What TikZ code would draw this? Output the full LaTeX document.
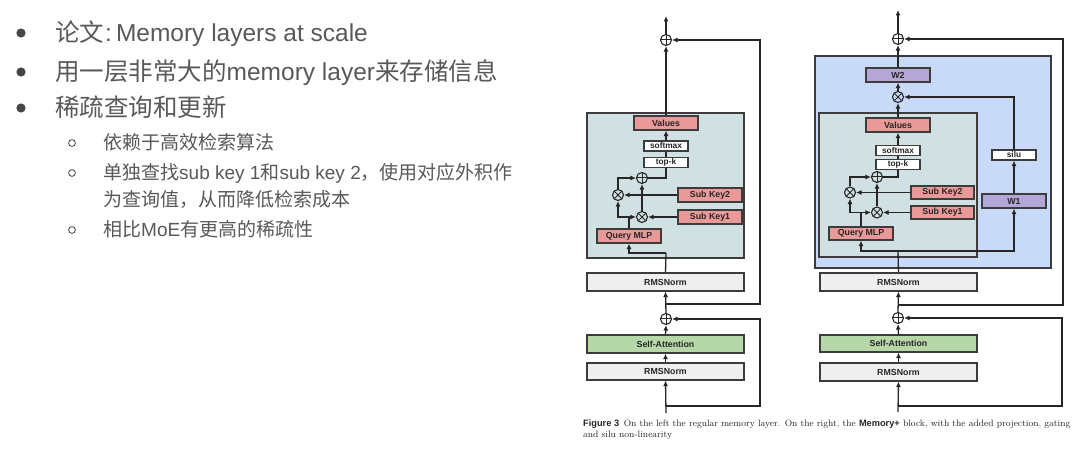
\documentclass[tikz,border=0pt]{standalone}
\usepackage{fontspec}
\newfontfamily\arial{Liberation Sans}
\newfontfamily\cjk{Noto Sans CJK SC}
\usetikzlibrary{arrows.meta}
\definecolor{txt}{HTML}{595959}
\definecolor{bul}{HTML}{464646}
\definecolor{tealbg}{HTML}{D0E0E3}
\definecolor{bluebg}{HTML}{C9DAF8}
\definecolor{pinkc}{HTML}{EA9999}
\definecolor{purp}{HTML}{B4A7D6}
\definecolor{grn}{HTML}{B6D7A8}
\definecolor{gry}{HTML}{EFEFEF}
\definecolor{edge}{HTML}{3C3C3C}
\definecolor{wire}{HTML}{262626}
\tikzset{
  box/.style={draw=edge, line width=1.2pt, inner sep=0pt, font=\arial\bfseries\fontsize{8.8}{9}\selectfont, text=black!85},
  pinkbox/.style={box, fill=pinkc},
  purpbox/.style={box, fill=purp},
  grnbox/.style={box, fill=grn},
  grybox/.style={box, fill=gry},
  whitebox/.style={box, fill=white, font=\arial\bfseries\fontsize{8.3}{9}\selectfont},
  region/.style={draw=edge, line width=1.2pt, inner sep=0pt},
  op/.style={circle, draw=wire, line width=1.1pt, minimum size=11pt, inner sep=0pt},
  oplus/.style={op, path picture={\draw[wire, line width=1pt] (path picture bounding box.north) -- (path picture bounding box.south) (path picture bounding box.west) -- (path picture bounding box.east);}},
  otimes/.style={op, path picture={\draw[wire, line width=1pt] ([shift={(-4pt,-4pt)}]path picture bounding box.center) -- ([shift={(4pt,4pt)}]path picture bounding box.center) ([shift={(-4pt,4pt)}]path picture bounding box.center) -- ([shift={(4pt,-4pt)}]path picture bounding box.center);}},
  arr/.style={draw=wire, line width=1.3pt, -{Latex[length=5.5pt,width=5pt]}},
  ln/.style={draw=wire, line width=1.3pt},
  bigtxt/.style={anchor=base west, inner sep=0pt, text=txt, font=\arial\fontsize{24.5}{28}\selectfont},
  subtxt/.style={anchor=base west, inner sep=0pt, text=txt, font=\arial\fontsize{19}{23}\selectfont},
  captxt/.style={anchor=base west, inner sep=0pt, text=black!85, font=\fontsize{9.25}{11}\selectfont},
}
\newcommand{\capsans}{\arial\bfseries}
\begin{document}
\begin{tikzpicture}[x=1pt, y=-1pt]
\fill[white] (0,0) rectangle (1080,457);
\useasboundingbox (0,0) rectangle (1080,457);

% ---------- left text ----------
\fill[bul] (21,33) circle[radius=4.6pt];
\fill[bul] (21,72) circle[radius=4.6pt];
\fill[bul] (21,108) circle[radius=4.6pt];
\draw[bul, line width=0.8pt] (72,143) circle[radius=3.4pt];
\draw[bul, line width=0.8pt] (72,173) circle[radius=3.4pt];
\draw[bul, line width=0.8pt] (72,230) circle[radius=3.4pt];
\node[bigtxt] (t1) at (55,42) {{\cjk 论文}\kern1pt:\kern4pt Memory layers at scale};
\node[bigtxt] (t2) at (55,81) {{\cjk 用一层非常大的}memory layer{\cjk 来存储信息}};
\node[bigtxt] (t3) at (55,117) {{\cjk 稀疏查询和更新}};
\node[subtxt] (s1) at (103,150) {{\cjk 依赖于高效检索算法}};
\node[subtxt] (s2) at (103,180) {{\cjk 单独查找}sub key 1{\cjk 和}sub key 2{\cjk ，使用对应外积作}};
\node[subtxt] (s2b) at (103,207) {{\cjk 为查询值，从而降低检索成本}};
\node[subtxt] (s3) at (103,237) {{\cjk 相比}MoE{\cjk 有更高的稀疏性}};

% ---------- left diagram ----------
\node[region, fill=tealbg, minimum width=157pt, minimum height=145pt] (tealL) at (665.5,185.5) {};
\node[pinkbox, minimum width=64pt, minimum height=14pt] (valsL) at (666,123) {Values};
\node[whitebox, minimum width=44pt, minimum height=10pt] (smL) at (666,146) {softmax};
\node[whitebox, minimum width=44pt, minimum height=10pt] (tkL) at (666,162.5) {top-k};
\node[oplus] (plusInL) at (642,178) {};
\node[otimes] (mulUL) at (618,195) {};
\node[pinkbox, minimum width=64pt, minimum height=14pt] (sk2L) at (710,195) {Sub Key2};
\node[otimes] (mulLL) at (642,217) {};
\node[pinkbox, minimum width=64pt, minimum height=14pt] (sk1L) at (710,217) {Sub Key1};
\node[pinkbox, minimum width=64pt, minimum height=14pt] (qmlpL) at (629,236) {Query MLP};
\node[grybox, minimum width=157pt, minimum height=18pt] (rms1L) at (665.5,282) {RMSNorm};
\node[oplus] (plusLoL) at (666,319) {};
\node[grnbox, minimum width=157pt, minimum height=18pt] (saL) at (665.5,344) {Self-Attention};
\node[grybox, minimum width=157pt, minimum height=17pt] (rms2L) at (665.5,371.5) {RMSNorm};
\node[oplus] (plusTopL) at (666,40) {};
\coordinate (topL) at (666,16);
\coordinate (inL) at (666,413);
\coordinate (bL) at (666,253);
\coordinate (j1L) at (666,304);
\coordinate (c1L) at (760,304);
\coordinate (j2L) at (666,406);
\coordinate (c2L) at (760,406);

\draw[arr] (inL) -- (rms2L.south);
\draw[arr] (rms2L.north) -- (saL.south);
\draw[arr] (saL.north) -- (plusLoL.south);
\draw[arr] (plusLoL.north) -- (rms1L.south);
\draw[arr] (j2L) -- (c2L) |- (plusLoL.east);
\draw[arr] (j1L) -- (c1L) |- (plusTopL.east);
\draw[ln] (rms1L.north) -- (bL);
\draw[arr] (bL) -| (qmlpL.south);
\draw[arr] (qmlpL.north) |- (mulLL.west);
\draw[arr] (qmlpL.north |- mulLL.center) -| (mulUL.south);
\draw[arr] (sk1L.west) -- (mulLL.east);
\draw[arr] (sk2L.west) -- (mulUL.east);
\draw[arr] (mulLL.north) -- (plusInL.south);
\draw[arr] (mulUL.north) |- (plusInL.west);
\draw[ln] (plusInL.east) -| (tkL.south);
\draw[ln] (tkL.north) -- (smL.south);
\draw[arr] (smL.north) -- (valsL.south);
\draw[arr] (valsL.north) -- (plusTopL.south);
\draw[arr] (plusTopL.north) -- (topL);

% ---------- right diagram ----------
\node[region, fill=bluebg, minimum width=236pt, minimum height=212pt] (blueR) at (933,162) {};
\node[region, fill=tealbg, minimum width=158pt, minimum height=144pt] (tealR) at (898,185) {};
\node[purpbox, minimum width=64pt, minimum height=14pt] (w2R) at (898,75) {W2};
\node[otimes] (mulGR) at (898,97) {};
\node[pinkbox, minimum width=64pt, minimum height=14pt] (valsR) at (898,125) {Values};
\node[whitebox, minimum width=44pt, minimum height=10pt] (smR) at (898,150.5) {softmax};
\node[whitebox, minimum width=44pt, minimum height=10pt] (tkR) at (898,164.5) {top-k};
\node[oplus] (plusInR) at (877,177) {};
\node[otimes] (mulUR) at (850,192.5) {};
\node[pinkbox, minimum width=63pt, minimum height=13pt] (sk2R) at (942.5,192.5) {Sub Key2};
\node[otimes] (mulLR) at (877,212.5) {};
\node[pinkbox, minimum width=63pt, minimum height=13pt] (sk1R) at (942.5,212.5) {Sub Key1};
\node[pinkbox, minimum width=64pt, minimum height=13pt] (qmlpR) at (861,233.5) {Query MLP};
\node[purpbox, minimum width=64pt, minimum height=14pt] (w1R) at (1014,201) {W1};
\node[whitebox, minimum width=44pt, minimum height=10pt] (siluR) at (1014,155) {silu};
\node[grybox, minimum width=157pt, minimum height=18pt] (rms1R) at (898.5,282) {RMSNorm};
\node[oplus] (plusLoR) at (898,318) {};
\node[grnbox, minimum width=157pt, minimum height=17pt] (saR) at (898.5,343.5) {Self-Attention};
\node[grybox, minimum width=157pt, minimum height=18pt] (rms2R) at (898.5,372) {RMSNorm};
\node[oplus] (plusTopR) at (898,39) {};
\coordinate (topR) at (898,10);
\coordinate (inR) at (898,412);
\coordinate (bR) at (898,251);
\coordinate (j1R) at (898,305);
\coordinate (c1R) at (1063,305);
\coordinate (j2R) at (898,406);
\coordinate (c2R) at (1062,406);

\draw[arr] (inR) -- (rms2R.south);
\draw[arr] (rms2R.north) -- (saR.south);
\draw[arr] (saR.north) -- (plusLoR.south);
\draw[arr] (plusLoR.north) -- (rms1R.south);
\draw[arr] (j2R) -- (c2R) |- (plusLoR.east);
\draw[arr] (j1R) -- (c1R) |- (plusTopR.east);
\draw[ln] (rms1R.north) -- (bR);
\draw[arr] (bR) -| (qmlpR.south);
\draw[arr] (bR) -| (w1R.south);
\draw[arr] (w1R.north) -- (siluR.south);
\draw[arr] (siluR.north) |- (mulGR.east);
\draw[arr] (qmlpR.north) |- (mulLR.west);
\draw[arr] (qmlpR.north |- mulLR.center) -| (mulUR.south);
\draw[arr] (sk1R.west) -- (mulLR.east);
\draw[arr] (sk2R.west) -- (mulUR.east);
\draw[arr] (mulLR.north) -- (plusInR.south);
\draw[arr] (mulUR.north) |- (plusInR.west);
\draw[ln] (plusInR.east) -| (tkR.south);
\draw[ln] (tkR.north) -- (smR.south);
\draw[arr] (smR.north) -- (valsR.south);
\draw[arr] (valsR.north) -- (mulGR.south);
\draw[arr] (mulGR.north) -- (w2R.south);
\draw[arr] (w2R.north) -- (plusTopR.south);
\draw[arr] (plusTopR.north) -- (topR);

% ---------- caption ----------
\node[captxt] (cap1) at (583,426) {{\capsans Figure 3}\enspace On the left the regular memory layer. On the right, the {\capsans Memory+} block, with the added projection, gating};
\node[captxt] (cap2) at (583,437) {and silu non-linearity};
\end{tikzpicture}
\end{document}
